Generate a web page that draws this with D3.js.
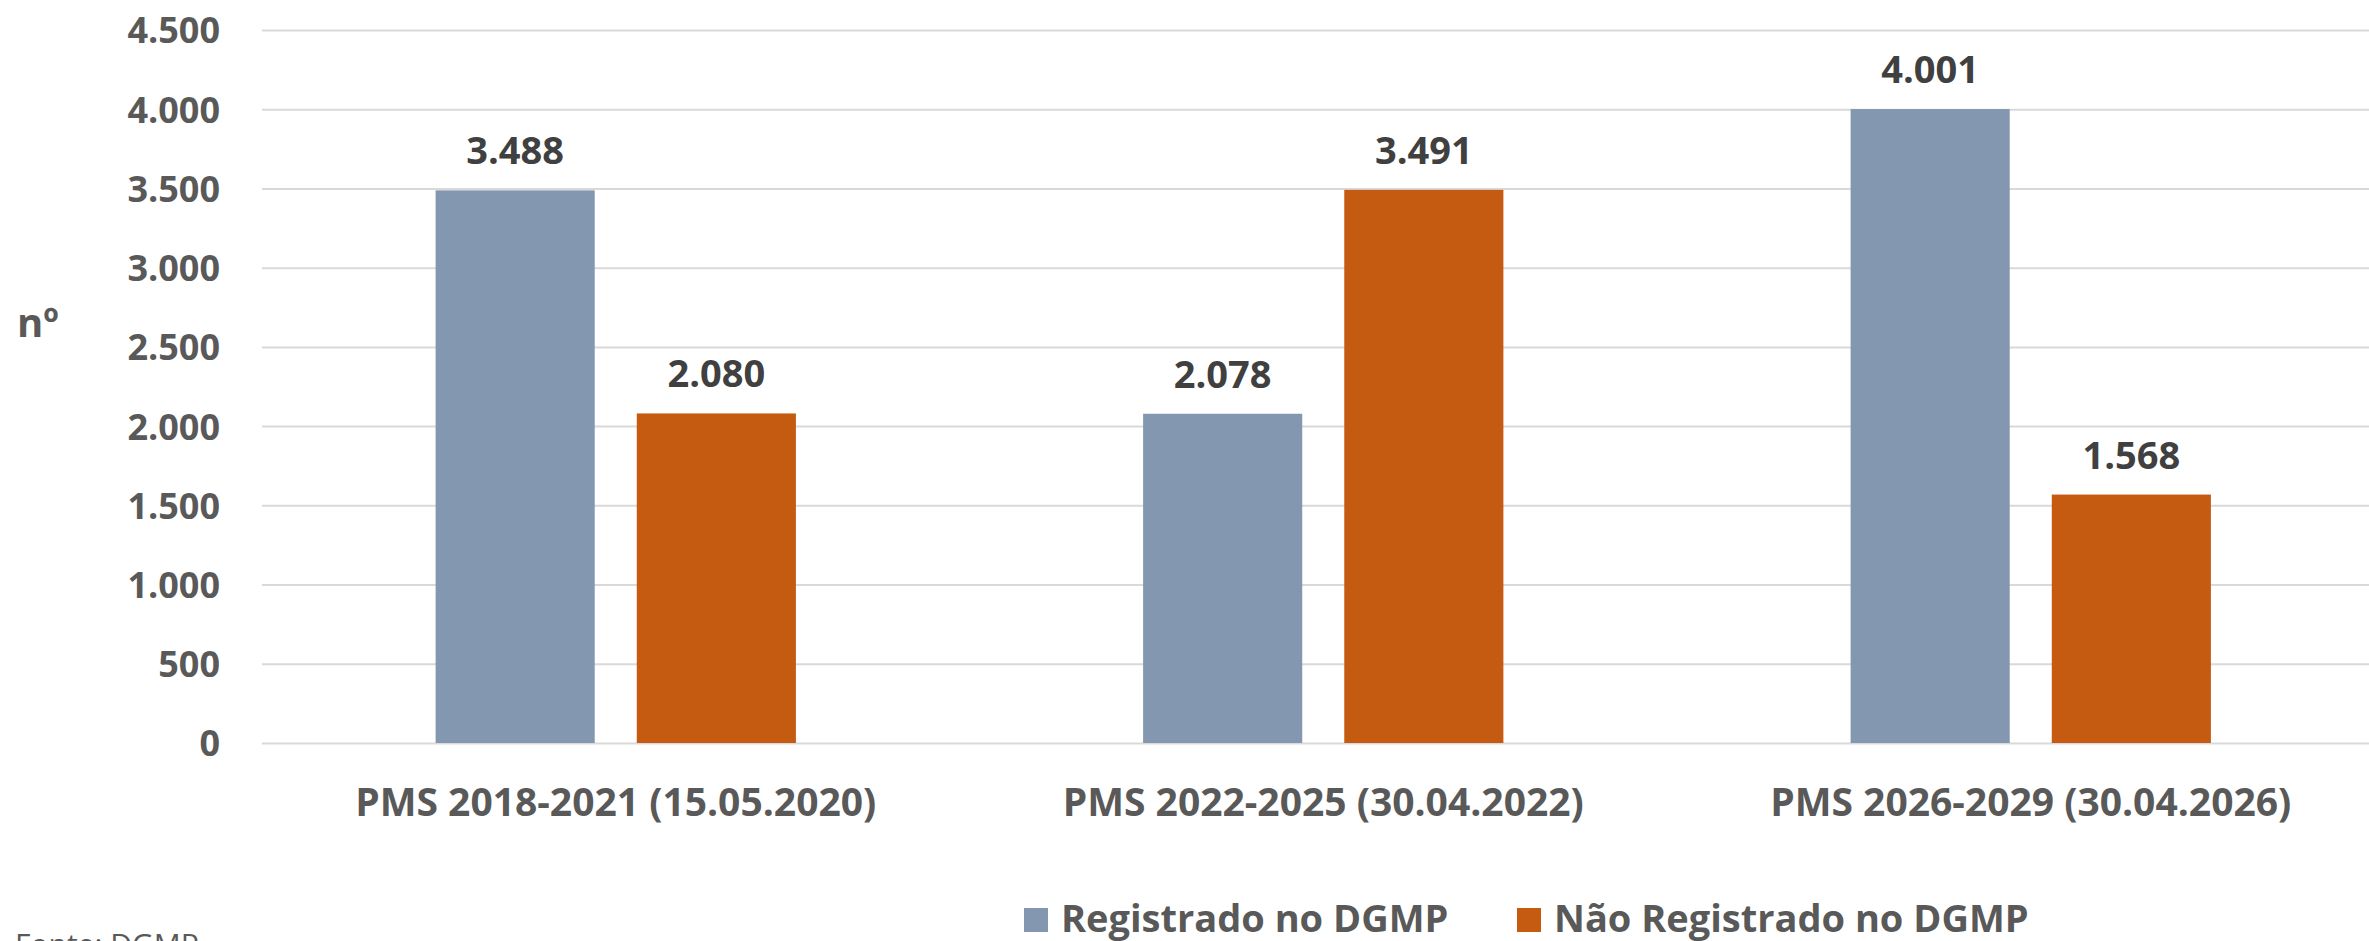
<!DOCTYPE html>
<html>
<head>
<meta charset="utf-8">
<script src="https://cdn.jsdelivr.net/npm/d3@7"></script>
<style>
  body { margin: 0; background: #fff; overflow: hidden; }
  text { font-family: "Open Sans", sans-serif; font-weight: bold; }
</style>
</head>
<body>
<div id="main"></div>
<script>
var categories = ['PMS 2018-2021 (15.05.2020)', 'PMS 2022-2025 (30.04.2022)', 'PMS 2026-2029 (30.04.2026)'];
var series = ['Registrado no DGMP', 'Não Registrado no DGMP'];
var registrado = [3488, 2078, 4001];
var naoRegistrado = [2080, 3491, 1568];
var yTicks = [0, 500, 1000, 1500, 2000, 2500, 3000, 3500, 4000, 4500];
var colors = ['#8497B0', '#C55A11'];

var width = 2369,
    height = 941;

// ("top" e' reservado no window, por isso plotTop)
var plotLeft = 262, plotRight = 2384.5, plotTop = 30, plotBottom = 743;

// numeros no formato pt-BR (3.488)
var fmt = d3.formatLocale({decimal: ",", thousands: ".", grouping: [3], currency: ["R$", ""]}).format(",d");

var svg = d3.select("#main").append("svg")
    .attr("width", width)
    .attr("height", height);

var y = d3.scaleLinear()
  .domain([0, 4500])
  .range([plotBottom, plotTop]);

var x0 = d3.scaleBand()
  .domain(categories)
  .range([plotLeft, plotRight]);

var x1 = d3.scaleBand()
  .domain(series)
  .range([0, x0.bandwidth()])
  .paddingInner(0.209)
  .paddingOuter(0.863);

var data = categories.map(function(c, i) {
  return {
    cat: c,
    values: [
      { key: series[0], value: registrado[i] },
      { key: series[1], value: naoRegistrado[i] }
    ]
  };
});

// eixo y com as linhas de grade
var yAxis = d3.axisLeft(y)
  .tickValues(yTicks)
  .tickFormat(fmt)
  .tickSize(-(plotRight - plotLeft))
  .tickPadding(42);

var gy = svg.append("g")
    .attr("class", "axis axis--y")
    .attr("transform", "translate(" + plotLeft + ",0)")
    .call(yAxis);

gy.select(".domain").remove();
gy.selectAll(".tick line")
    .attr("stroke", "#D9D9D9")
    .attr("stroke-width", 2);
gy.selectAll(".tick text")
    .attr("fill", "#595959")
    .attr("dy", "0.36em")
    .style("font-family", '"Open Sans", sans-serif')
    .style("font-weight", "bold")
    .style("font-size", "36px");

svg.append("text")
    .attr("x", 17)
    .attr("y", 337)
    .attr("fill", "#595959")
    .style("font-size", "40px")
    .text("nº");

var group = svg.selectAll(".grupo")
  .data(data)
.enter().append("g")
  .attr("class", "grupo")
  .attr("transform", function(d) { return "translate(" + x0(d.cat) + ",0)"; });

group.selectAll(".bar")
  .data(function(d) { return d.values; })
.enter().append("rect")
  .attr("class", "bar")
  .attr("x", function(d) { return x1(d.key); })
  .attr("y", function(d) { return y(d.value); })
  .attr("width", x1.bandwidth())
  .attr("height", function(d) { return y(0) - y(d.value); })
  .attr("fill", function(d, i) { return colors[i]; });

group.selectAll(".label")
  .data(function(d) { return d.values; })
.enter().append("text")
  .attr("class", "label")
  .attr("x", function(d) { return x1(d.key) + x1.bandwidth() / 2; })
  .attr("y", function(d) { return y(d.value) - 26; })
  .attr("text-anchor", "middle")
  .attr("fill", "#404040")
  .style("font-size", "38px")
  .text(function(d) { return fmt(d.value); });

svg.selectAll(".cat")
  .data(categories)
.enter().append("text")
  .attr("class", "cat")
  .attr("x", function(d) { return x0(d) + x0.bandwidth() / 2; })
  .attr("y", 816)
  .attr("text-anchor", "middle")
  .attr("fill", "#595959")
  .style("font-size", "39px")
  .text(function(d) { return d; });

// legenda
var legendX = [1024, 1517];
var legend = svg.selectAll(".legend")
  .data(series)
.enter().append("g")
  .attr("class", "legend")
  .attr("transform", function(d, i) { return "translate(" + legendX[i] + ",908)"; });

legend.append("rect")
  .attr("width", 24)
  .attr("height", 24)
  .attr("fill", function(d, i) { return colors[i]; });

legend.append("text")
  .attr("x", 37)
  .attr("y", 24)
  .attr("fill", "#595959")
  .style("font-size", "38px")
  .text(function(d) { return d; });

svg.append("text")
    .attr("x", 15)
    .attr("y", 955)
    .attr("fill", "#595959")
    .style("font-weight", "normal")
    .style("font-size", "30px")
    .text("Fonte: DGMP");
</script>
</body>
</html>
